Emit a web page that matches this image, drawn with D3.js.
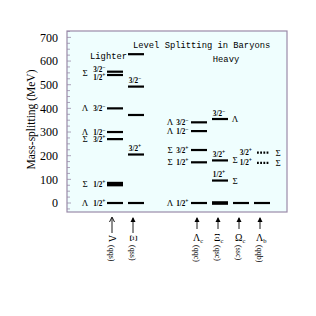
<!DOCTYPE html>
<html>
<head>
<meta charset="utf-8">
<script src="https://cdn.jsdelivr.net/npm/d3@7"></script>
<style>
  body { margin: 0; background: #fff; }
  text { font-family: "Liberation Serif", "DejaVu Serif", serif; }
  .mono { font-family: "Liberation Mono", "DejaVu Sans Mono", monospace; }
</style>
</head>
<body>
<svg id="chart" width="316" height="316"></svg>
<script>

// columns (slots of the point scale, gaps included)
var slots = ["Λ", "Ξ", "gap1", "gap2", "Λc", "Ξc", "Ωc", "Λb"];

// levels of each column: mass splitting (MeV) and J^P label
var lambdaLevels = [
  { m: 0, jp: "1/2+" }, { m: 75 }, { m: 80, jp: "1/2+" }, { m: 85 },
  { m: 270, jp: "3/2+" }, { m: 300, jp: "1/2−" }, { m: 400, jp: "3/2−" },
  { m: 541, jp: "1/2+" }, { m: 555, jp: "3/2−" }
];
var xiLevels = [
  { m: 0 }, { m: 205, jp: "3/2+" }, { m: 372 }, { m: 492, jp: "3/2−" }, { m: 629 }
];
var lambdaCLevels = [
  { m: 0, jp: "1/2+" }, { m: 172, jp: "1/2+" }, { m: 224, jp: "3/2+" },
  { m: 304, jp: "1/2−" }, { m: 341, jp: "3/2−" }
];
var xiCLevels = [
  { m: 0, thick: true }, { m: 95, jp: "1/2+" }, { m: 180, jp: "3/2+" }, { m: 355, jp: "3/2−" }
];
var omegaCLevels = [{ m: 0 }];
var lambdaBLevels = [
  { m: 0 }, { m: 170, jp: "1/2+", dotted: true }, { m: 213, jp: "3/2+", dotted: true }
];

// state names written beside the levels
var lambdaNames = [
  { m: 0, t: "Λ" }, { m: 80, t: "Σ" }, { m: 270, t: "Σ" }, { m: 300, t: "Λ" },
  { m: 400, t: "Λ" }, { m: 548, t: "Σ" }
];
var lambdaCNames = [
  { m: 0, t: "Λ" }, { m: 172, t: "Σ" }, { m: 224, t: "Σ" }, { m: 304, t: "Λ" }, { m: 341, t: "Λ" }
];
var xiCNames = [{ m: 95, t: "Σ" }, { m: 180, t: "Σ" }, { m: 355, t: "Λ" }];
var lambdaBNames = [{ m: 170, t: "Σ" }, { m: 213, t: "Σ" }];

// labels under the frame
var bottomLabels = [
  { col: "Λ", sym: "Λ", sub: "", quarks: "(qqs)", light: true },
  { col: "Ξ", sym: "Ξ", sub: "", quarks: "(qss)", light: true },
  { col: "Λc", sym: "Λ", sub: "c", quarks: "(qqc)" },
  { col: "Ξc", sym: "Ξ", sub: "c", quarks: "(qsc)" },
  { col: "Ωc", sym: "Ω", sub: "c", quarks: "(ssc)" },
  { col: "Λb", sym: "Λ", sub: "b", quarks: "(qqb)" }
];

var yTicks = [0, 100, 200, 300, 400, 500, 600, 700];

var svg = d3.select("#chart");

var plotLeft = 67, plotRight = 287, plotTop = 31, plotBottom = 212;
var half = 8;

var x = d3.scalePoint().domain(slots).range([115, 262]);
var y = d3.scaleLinear().domain([-38, 727]).range([plotBottom, plotTop]);

// frame
svg.append("rect")
  .attr("x", plotLeft).attr("y", plotTop)
  .attr("width", plotRight - plotLeft).attr("height", plotBottom - plotTop)
  .attr("fill", "#effefe")
  .attr("stroke", "#9a8aa8")
  .attr("stroke-width", 1.2);

// inner ticks
var minor = d3.range(-25, 726, 25);
svg.append("g")
  .selectAll("line")
  .data(minor)
  .join("line")
  .attr("x1", plotLeft)
  .attr("x2", function (d) { return plotLeft + (d % 100 === 0 ? 4 : 3); })
  .attr("y1", function (d) { return y(d); })
  .attr("y2", function (d) { return y(d); })
  .attr("stroke", "#9a8aa8")
  .attr("stroke-width", 0.8);

// tick labels
var yAxis = svg.append("g")
  .attr("transform", "translate(" + plotLeft + ",0)")
  .call(d3.axisLeft(y).tickValues(yTicks).tickSize(0).tickPadding(9));
yAxis.select(".domain").remove();
yAxis.selectAll("text")
  .attr("font-family", "Liberation Serif, serif")
  .attr("font-size", 12)
  .attr("fill", "#000");

svg.append("text")
  .attr("transform", "translate(35," + ((plotTop + plotBottom) / 2 - 2) + ") rotate(-90)")
  .attr("text-anchor", "middle")
  .attr("font-size", 11.5)
  .text("Mass-splitting (MeV)");

// titles
svg.append("text").attr("class", "mono")
  .attr("x", 133).attr("y", 48).attr("font-size", 8.8)
  .text("Level Splitting in Baryons");
svg.append("text").attr("class", "mono")
  .attr("x", 127).attr("y", 59).attr("font-size", 8.8)
  .attr("text-anchor", "end")
  .text("Lighter");
svg.append("text").attr("class", "mono")
  .attr("x", 226).attr("y", 62).attr("font-size", 8.8)
  .attr("text-anchor", "middle")
  .text("Heavy");

// helpers
function drawLevels(col, levels) {
  var cx = x(col);
  svg.append("g")
    .selectAll("line")
    .data(levels)
    .join("line")
    .attr("x1", function (d) { return d.dotted ? cx - 5 : cx - half; })
    .attr("x2", function (d) { return d.dotted ? cx + 7 : cx + half; })
    .attr("y1", function (d) { return y(d.m); })
    .attr("y2", function (d) { return y(d.m); })
    .attr("stroke", "#000")
    .attr("stroke-width", function (d) { return d.thick ? 3.6 : 2.2; })
    .attr("stroke-dasharray", function (d) { return d.dotted ? "1.8,1.4" : null; });
}

function jpText(sel, jp) {
  var base = jp.slice(0, -1), sign = jp.slice(-1);
  sel.append("tspan").text(base);
  sel.append("tspan").attr("dy", -3).attr("font-size", 5.5).text(sign);
}

// spread labels of levels that sit very close together
function labelShift(levels, d) {
  var shift = 0;
  levels.forEach(function (o) {
    if (o !== d && o.jp && Math.abs(o.m - d.m) < 20) shift = o.m < d.m ? -2 : 2;
  });
  return shift;
}

function leftJP(col, levels, gap) {
  var cx = x(col);
  levels.filter(function (d) { return d.jp; }).forEach(function (d) {
    var t = svg.append("text")
      .attr("x", cx - half - gap)
      .attr("y", y(d.m) + 2.5 + labelShift(levels, d))
      .attr("text-anchor", "end")
      .attr("font-size", 7.2)
      .attr("font-weight", "bold");
    jpText(t, d.jp);
  });
}

function aboveJP(col, levels) {
  var cx = x(col);
  levels.filter(function (d) { return d.jp; }).forEach(function (d) {
    var t = svg.append("text")
      .attr("x", cx - 1)
      .attr("y", y(d.m) - 3.5)
      .attr("text-anchor", "middle")
      .attr("font-size", 7.2)
      .attr("font-weight", "bold");
    jpText(t, d.jp);
  });
}

function names(col, list, dx) {
  var cx = x(col);
  svg.append("g")
    .selectAll("text")
    .data(list)
    .join("text")
    .attr("x", cx + dx)
    .attr("y", function (d) { return y(d.m) + 3; })
    .attr("text-anchor", "middle")
    .attr("font-size", 9)
    .text(function (d) { return d.t; });
}

// light baryons
drawLevels("Λ", lambdaLevels);
leftJP("Λ", lambdaLevels, 1.5);
names("Λ", lambdaNames, -half - 22);

drawLevels("Ξ", xiLevels);
aboveJP("Ξ", xiLevels);

// heavy baryons
drawLevels("Λc", lambdaCLevels);
leftJP("Λc", lambdaCLevels, 2.5);
names("Λc", lambdaCNames, -half - 21);

drawLevels("Ξc", xiCLevels);
aboveJP("Ξc", xiCLevels);
names("Ξc", xiCNames, half + 7);

drawLevels("Ωc", omegaCLevels);

drawLevels("Λb", lambdaBLevels);
leftJP("Λb", lambdaBLevels, 2);
names("Λb", lambdaBNames, half + 8);

// arrows and labels below the frame
bottomLabels.forEach(function (d) {
  var ax = x(d.col) - (d.light ? 3 : 2);
  var tip = 217, end = d.light ? 233 : 229;
  svg.append("line")
    .attr("x1", ax).attr("x2", ax)
    .attr("y1", tip + 1).attr("y2", end)
    .attr("stroke", "#000").attr("stroke-width", 0.9);
  if (d.col === "Λ") {
    svg.append("path")
      .attr("d", d3.line()([[ax - 2.5, tip + 5], [ax, tip], [ax + 2.5, tip + 5]]))
      .attr("fill", "none").attr("stroke", "#000").attr("stroke-width", 0.9);
  } else {
    svg.append("path")
      .attr("d", d3.line()([[ax - 2.5, tip + 5], [ax, tip], [ax + 2.5, tip + 5]]) + "Z")
      .attr("fill", "#000");
  }

  if (d.light) {
    svg.append("text")
      .attr("transform", "translate(" + (ax - 3) + "," + 235 + ") rotate(90)")
      .attr("font-size", 10)
      .text(d.sym);
  } else {
    var s = svg.append("text")
      .attr("x", ax - 4).attr("y", 241)
      .attr("font-size", 10)
      .text(d.sym);
    s.append("tspan").attr("dy", 2).attr("font-size", 6.5).text(d.sub);
  }

  svg.append("text")
    .attr("transform", "translate(" + (ax - 3) + "," + 245 + ") rotate(90)")
    .attr("font-size", 8)
    .text(d.quarks);
});

</script>
</body>
</html>
